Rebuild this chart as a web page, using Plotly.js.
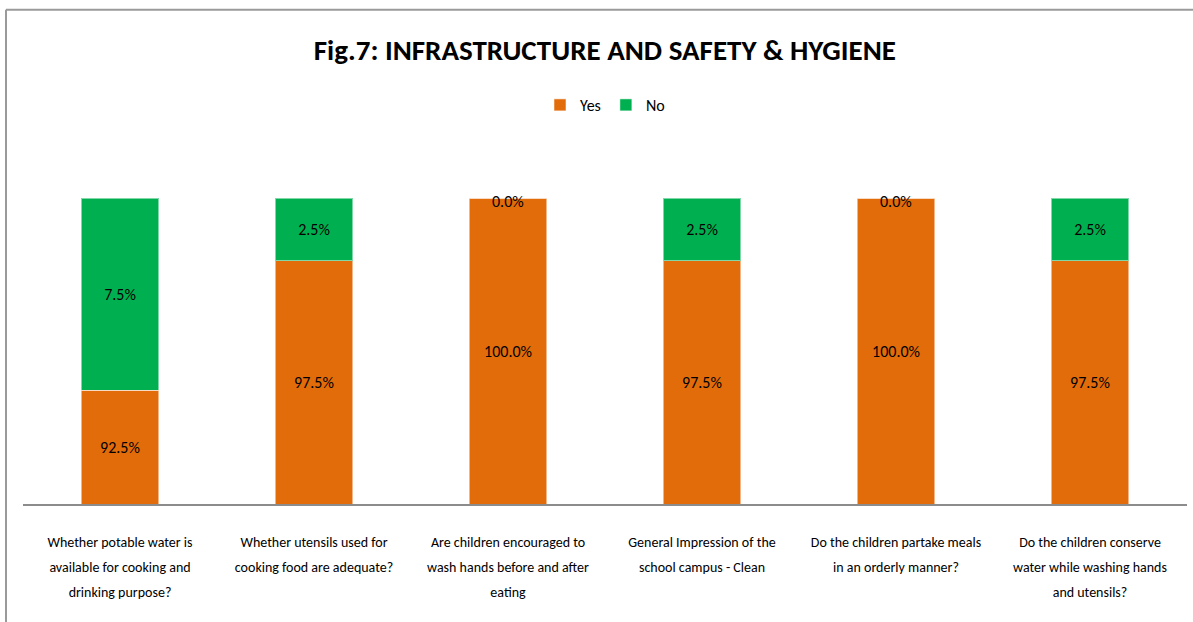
<!DOCTYPE html>
<html>
<head>
<meta charset="utf-8">
<script src="https://cdn.plot.ly/plotly-3.0.1.min.js"></script>
<style>
  html, body { margin: 0; padding: 0; background: #fff; }
  #chart { width: 1193px; height: 622px; }
</style>
</head>
<body>
<div id="chart"></div>
<script>
// Fragen (Kategorien), zeilenweise umbrochen wie im Original
const questions = [
  ["Whether potable water is", "available for cooking and", "drinking purpose?"],
  ["Whether utensils used for", "cooking food are adequate?"],
  ["Are children encouraged to", "wash hands before and after", "eating"],
  ["General Impression of the", "school campus - Clean"],
  ["Do the children partake meals", "in an orderly manner?"],
  ["Do the children conserve", "water while washing hands", "and utensils?"],
];

// Beschriftungen (Prozent laut Datenlabels)
const yesLabel = [92.5, 97.5, 100.0, 97.5, 100.0, 97.5];
const noLabel = [7.5, 2.5, 0.0, 2.5, 0.0, 2.5];

// Balkenhöhen (Anteil der Säule in %)
const yesHeight = [37.1, 79.5, 100, 79.5, 100, 79.5];
const noHeight = [62.9, 20.5, 0, 20.5, 0, 20.5];

const ORANGE = "#E36C0A";
const GREEN = "#00B050";
const FONT = "Carlito, Lato, sans-serif";

const cats = questions.map((q, i) => "q" + i);
const tickText = questions.map((q) =>
  q.map((line) => '<span style="font-size:14px">' + line + "</span>").join("<br>")
);

const pct = (v) => v.toFixed(1) + "%";

const traces = [
  {
    type: "bar",
    name: "Yes",
    x: cats,
    y: yesHeight,
    text: yesLabel.map(pct),
    textposition: "inside",
    insidetextanchor: "middle",
    textangle: 0,
    constraintext: "none",
    textfont: { family: FONT, size: 16, color: "#000" },
    marker: { color: ORANGE, line: { color: "rgba(255,255,255,0.5)", width: 1 } },
    hoverinfo: "skip",
  },
  {
    type: "bar",
    name: "No",
    x: cats,
    y: noHeight,
    text: noLabel.map((v) => (v > 0 ? pct(v) : "")),
    textposition: "inside",
    insidetextanchor: "middle",
    textangle: 0,
    constraintext: "none",
    textfont: { family: FONT, size: 16, color: "#000" },
    marker: { color: GREEN, line: { color: "rgba(255,255,255,0.5)", width: 1 } },
    hoverinfo: "skip",
  },
];

// 0.0%-Labels sitzen auf der Oberkante der Säule
const zeroNotes = [];
noLabel.forEach((v, i) => {
  if (v === 0) {
    zeroNotes.push({
      x: cats[i],
      y: yesHeight[i] + noHeight[i],
      text: pct(v),
      showarrow: false,
      yanchor: "middle",
      yshift: -3,
      font: { family: FONT, size: 16, color: "#000" },
    });
  }
});

// grauer Rahmen des Diagrammbereichs (Excel-Optik)
const frame = [
  { type: "line", xref: "paper", yref: "paper", x0: -0.0146, x1: 1.1, y0: 1.615, y1: 1.615,
    line: { color: "#9a9a9a", width: 2 } },
  { type: "line", xref: "paper", yref: "paper", x0: -0.0146, x1: -0.0146, y0: 1.615, y1: -0.5,
    line: { color: "#9a9a9a", width: 2 } },
];

Plotly.newPlot("chart", traces, {
  width: 1193,
  height: 622,
  paper_bgcolor: "#fff",
  plot_bgcolor: "#fff",
  barmode: "stack",
  bargap: 0.6,
  margin: { l: 23, r: 6, t: 198, b: 118 },
  font: { family: FONT, color: "#000" },
  title: {
    text: "<b>Fig.7: INFRASTRUCTURE AND SAFETY &amp; HYGIENE</b>",
    font: { family: FONT, size: 29, color: "#000" },
    x: 0.507,
    xanchor: "center",
    y: 0.92,
    yanchor: "middle",
  },
  showlegend: true,
  legend: {
    orientation: "h",
    x: 0.5,
    xanchor: "center",
    y: 1.304,
    yanchor: "middle",
    font: { family: FONT, size: 16, color: "#000" },
    itemgap: 0,
    itemwidth: 30,
    traceorder: "normal",
  },
  xaxis: {
    tickvals: cats,
    ticktext: tickText,
    tickfont: { family: FONT, size: 19, color: "#000" },
    ticks: "",
    ticklabelstandoff: 19,
    showline: true,
    linecolor: "#8c8c8c",
    linewidth: 1.5,
    showgrid: false,
    zeroline: false,
    fixedrange: true,
  },
  yaxis: {
    range: [0, 100],
    visible: false,
    showgrid: false,
    zeroline: false,
    fixedrange: true,
  },
  annotations: zeroNotes,
  shapes: frame,
}, { displayModeBar: false, staticPlot: true });
</script>
</body>
</html>
